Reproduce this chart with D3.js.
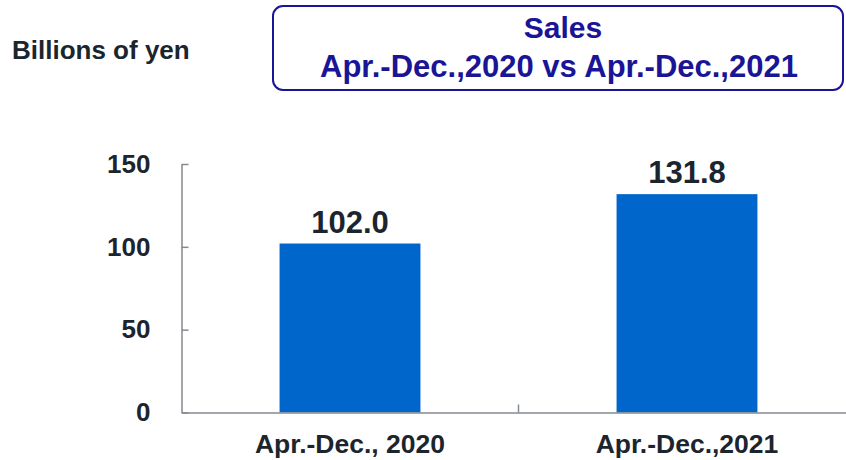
<!DOCTYPE html>
<html>
<head>
<meta charset="utf-8">
<script src="https://cdn.jsdelivr.net/npm/d3@7"></script>
<style>
  body { margin: 0; background: #fff; }
  svg text { font-family: Arial, "Liberation Sans", sans-serif; font-weight: bold; }
</style>
</head>
<body>
<div id="chart"></div>
<script>
// data
var periods = ["Apr.-Dec., 2020", "Apr.-Dec.,2021"];
var sales = [102.0, 131.8];
var yTicks = [0, 50, 100, 150];
var unitLabel = "Billions of yen";
var titleLines = ["Sales", "Apr.-Dec.,2020 vs Apr.-Dec.,2021"];

var width = 846, height = 460;
var inkDark = "#1c252e";
var titleBlue = "#1a1496";
var barBlue = "#0066cc";
var axisGrey = "#858a8f";

var svg = d3.select('#chart')
    .append('svg')
    .attr('width', width)
    .attr('height', height);

// unit label, top left
svg.append('text')
    .attr('x', 12)
    .attr('y', 59)
    .attr('fill', inkDark)
    .style('font-size', '26px')
    .text(unitLabel);

// title box
svg.append('rect')
    .attr('x', 273)
    .attr('y', 6)
    .attr('width', 570)
    .attr('height', 84)
    .attr('rx', 10)
    .attr('fill', 'none')
    .attr('stroke', titleBlue)
    .attr('stroke-width', 2);

svg.append('text')
    .attr('x', 563)
    .attr('y', 38)
    .attr('text-anchor', 'middle')
    .attr('fill', titleBlue)
    .style('font-size', '30px')
    .text(titleLines[0]);

svg.append('text')
    .attr('x', 559)
    .attr('y', 77)
    .attr('text-anchor', 'middle')
    .attr('fill', titleBlue)
    .style('font-size', '31px')
    .text(titleLines[1]);

// scales
var pad = 0.582;
var x = d3.scaleBand()
    .domain(periods)
    .range([181.5, 855.5])
    .paddingInner(pad)
    .paddingOuter(pad / 2);

var y = d3.scaleLinear()
    .domain([0, 150])
    .range([412.5, 164]);

// bars
svg.selectAll('rect.bar')
    .data(sales)
    .enter()
    .append('rect')
    .attr('class', 'bar')
    .attr('x', function (d, i) { return x(periods[i]); })
    .attr('y', function (d) { return y(d); })
    .attr('width', x.bandwidth())
    .attr('height', function (d) { return y(0) - y(d); })
    .attr('fill', barBlue);

// value labels
svg.selectAll('text.value')
    .data(sales)
    .enter()
    .append('text')
    .attr('class', 'value')
    .attr('x', function (d, i) { return x(periods[i]) + x.bandwidth() / 2; })
    .attr('y', function (d) { return y(d) - 11; })
    .attr('text-anchor', 'middle')
    .attr('fill', inkDark)
    .style('font-size', '31px')
    .text(function (d) { return d.toFixed(1); });

// y axis, ticks point inward
var yAxis = svg.append('g')
    .attr('transform', 'translate(181.5,0)')
    .call(d3.axisLeft(y).tickValues(yTicks).tickSizeInner(-7).tickSizeOuter(0).tickPadding(31));
yAxis.select('.domain').attr('stroke', axisGrey).attr('stroke-width', 1.5);
yAxis.selectAll('.tick line').attr('stroke', axisGrey).attr('stroke-width', 1.5);
yAxis.selectAll('.tick text')
    .attr('fill', inkDark)
    .style('font-size', '26px')
    .style('font-family', 'Arial, "Liberation Sans", sans-serif');

// x axis
var xAxis = svg.append('g')
    .attr('transform', 'translate(0,' + y(0) + ')')
    .call(d3.axisBottom(x).tickSize(0).tickPadding(22));
xAxis.select('.domain').attr('stroke', axisGrey).attr('stroke-width', 1.5);
xAxis.selectAll('.tick text')
    .attr('fill', inkDark)
    .style('font-size', '26.5px')
    .style('font-family', 'Arial, "Liberation Sans", sans-serif');

// tick between the two categories
var boundaries = periods.slice(1).map(function (p) {
    return x(p) - x.step() * x.paddingInner() / 2;
});
xAxis.selectAll('line.sep')
    .data(boundaries)
    .enter()
    .append('line')
    .attr('class', 'sep')
    .attr('x1', function (d) { return d; })
    .attr('x2', function (d) { return d; })
    .attr('y1', 0)
    .attr('y2', -8)
    .attr('stroke', axisGrey)
    .attr('stroke-width', 1.5);
</script>
</body>
</html>
